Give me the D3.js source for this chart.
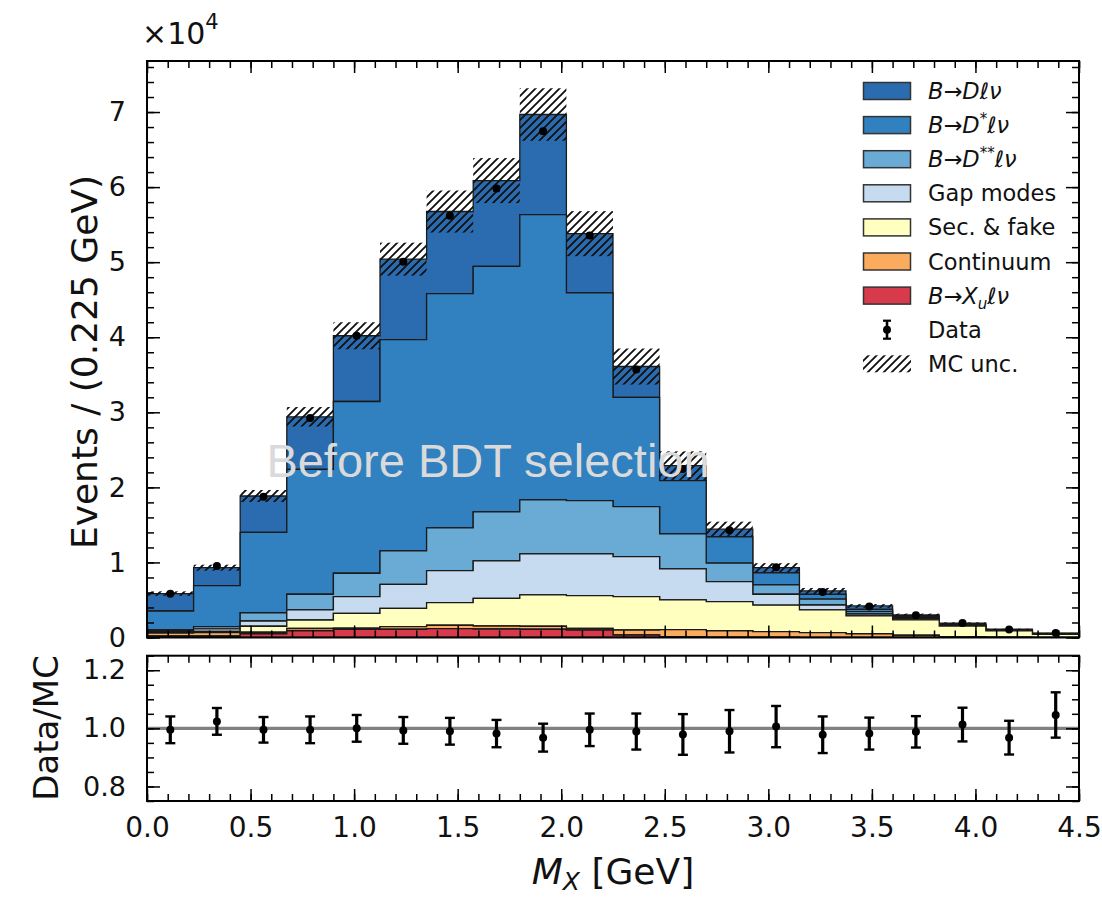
<!DOCTYPE html>
<meta charset="utf-8">
<style>
body { margin: 0; background: #fff; }
svg text { font-family: "DejaVu Sans", sans-serif; fill: #111; }
.tick line { stroke: #000; stroke-width: 1.5px; }
</style>
<body>
<script src="https://d3js.org/d3.v7.min.js"></script>
<script>
var width = 1102,
    height = 899;

// M_X bin edges [GeV]
var binEdges = [0, 0.225, 0.45, 0.675, 0.9, 1.125, 1.35, 1.575, 1.8, 2.025, 2.25,
                2.475, 2.7, 2.925, 3.15, 3.375, 3.6, 3.825, 4.05, 4.275, 4.5];

// MC components, events per bin in units of 1e4 (bottom of stack first)
var xuVals   = [0.02, 0.02, 0.05, 0.09, 0.11, 0.11, 0.117, 0.113, 0.11, 0.10, 0.033, 0.01, 0.005, 0.004, 0.003, 0.002, 0.002, 0.001, 0.001, 0.001];
var contVals = [0.04, 0.045, 0.02, 0.03, 0.015, 0.034, 0.046, 0.04, 0.04, 0.022, 0.067, 0.095, 0.085, 0.073, 0.061, 0.048, 0.028, 0.011, 0.005, 0.002];
var secVals  = [0.01, 0.015, 0.08, 0.113, 0.197, 0.245, 0.301, 0.369, 0.417, 0.435, 0.444, 0.395, 0.387, 0.353, 0.303, 0.237, 0.205, 0.141, 0.084, 0.039];
var gapVals  = [0.01, 0.035, 0.07, 0.134, 0.222, 0.32, 0.427, 0.498, 0.546, 0.556, 0.533, 0.413, 0.267, 0.146, 0.066, 0.026, 0.015, 0.007, 0.005, 0.004];
var dssVals  = [0.02, 0.03, 0.11, 0.209, 0.312, 0.444, 0.569, 0.653, 0.72, 0.711, 0.667, 0.467, 0.246, 0.124, 0.077, 0.031, 0.015, 0.01, 0.005, 0.004];
var dstVals  = [0.253, 0.545, 1.07, 1.664, 2.288, 2.814, 3.12, 3.271, 3.80, 2.766, 1.456, 0.71, 0.35, 0.16, 0.065, 0.032, 0.015, 0.01, 0.005, 0.003];
var dVals    = [0.232, 0.24, 0.485, 0.70, 0.876, 1.073, 1.095, 1.143, 1.334, 0.79, 0.41, 0.20, 0.103, 0.07, 0.045, 0.044, 0.02, 0.01, 0.005, 0.004];

// MC uncertainty (half width of hatched band), units of 1e4
var mcUnc = [0.03, 0.04, 0.08, 0.13, 0.18, 0.22, 0.28, 0.30, 0.35, 0.30, 0.24, 0.19, 0.10, 0.06, 0.04, 0.025, 0.018, 0.012, 0.007, 0.004];

// data, units of 1e4
var dataVals = [0.582, 0.952, 1.875, 2.925, 4.02, 5.005, 5.62, 5.98, 6.745, 5.355, 3.57, 2.245, 1.43, 0.935, 0.607, 0.413, 0.297, 0.193, 0.107, 0.060];
var dataErr  = [0.008, 0.01, 0.014, 0.017, 0.02, 0.022, 0.024, 0.025, 0.026, 0.023, 0.019, 0.015, 0.012, 0.01, 0.008, 0.006, 0.005, 0.004, 0.003, 0.002];

// Data/MC ratio
var ratioVals = [0.995, 1.024, 0.995, 0.995, 1.0, 0.993, 0.99, 0.982, 0.968, 0.995, 0.989, 0.979, 0.99, 1.006, 0.978, 0.982, 0.988, 1.013, 0.968, 1.046];
var ratioErr  = [0.046, 0.046, 0.044, 0.046, 0.046, 0.046, 0.046, 0.047, 0.048, 0.056, 0.062, 0.07, 0.073, 0.071, 0.063, 0.055, 0.054, 0.058, 0.058, 0.078];

var xMajor = [0, 0.5, 1.0, 1.5, 2.0, 2.5, 3.0, 3.5, 4.0, 4.5];
var yMajor = [0, 1, 2, 3, 4, 5, 6, 7];
var rMajor = [0.8, 1.0, 1.2];

var keys = ["xu", "cont", "sec", "gap", "dss", "dst", "d"];
var colors = {
  d: "#2b6cb0", dst: "#3181c0", dss: "#6aabd6", gap: "#c6dbef",
  sec: "#ffffc0", cont: "#fbab5e", xu: "#d63a4b"
};

var table = binEdges.slice(0, -1).map(function(lo, i) {
  return { lo: lo, hi: binEdges[i + 1], xu: xuVals[i], cont: contVals[i], sec: secVals[i],
           gap: gapVals[i], dss: dssVals[i], dst: dstVals[i], d: dVals[i] };
});
var series = d3.stack().keys(keys)(table);
var totals = series[series.length - 1].map(function(s) { return s[1]; });

var x = d3.scaleLinear().domain([0, 4.5]).range([147, 1079]);
var y = d3.scaleLinear().domain([0, 7.68]).range([637.5, 61]);
var yr = d3.scaleLinear().domain([0.75, 1.25]).range([801, 655.7]);

var svg = d3.select("body").append("svg")
    .attr("width", width)
    .attr("height", height);

var defs = svg.append("defs");
defs.append("pattern")
    .attr("id", "hatch")
    .attr("patternUnits", "userSpaceOnUse")
    .attr("width", 8).attr("height", 8)
  .append("path")
    .attr("d", "M-2,2 l4,-4 M0,8 l8,-8 M6,10 l4,-4")
    .attr("stroke", "#111")
    .attr("stroke-width", 1.9);
defs.append("clipPath").attr("id", "clipMain")
  .append("rect").attr("x", 147).attr("y", 61).attr("width", 932).attr("height", 576.5);

// ---------- main panel ----------
var main = svg.append("g").attr("clip-path", "url(#clipMain)");

var stepArea = d3.area()
    .x(function(p) { return x(p.x); })
    .y0(function(p) { return y(p.y0); })
    .y1(function(p) { return y(p.y1); });

series.slice().reverse().forEach(function(s) {
  var pts = [];
  s.forEach(function(v, i) {
    pts.push({ x: table[i].lo, y0: v[0], y1: v[1] });
    pts.push({ x: table[i].hi, y0: v[0], y1: v[1] });
  });
  main.append("path")
      .attr("d", stepArea(pts))
      .attr("fill", colors[s.key])
      .attr("stroke", "#1a1a1a")
      .attr("stroke-width", 1.3)
      .attr("stroke-linejoin", "miter");
});

svg.append("text")
    .attr("x", 488).attr("y", 477)
    .attr("text-anchor", "middle")
    .style("font-family", "'Liberation Sans', Arial, sans-serif")
    .style("font-size", "47px")
    .style("fill", "#dadada")
    .text("Before BDT selection");

main.selectAll("rect.unc")
  .data(table)
  .join("rect")
    .attr("class", "unc")
    .attr("x", function(d) { return x(d.lo); })
    .attr("width", function(d) { return x(d.hi) - x(d.lo); })
    .attr("y", function(d, i) { return y(totals[i] + mcUnc[i]); })
    .attr("height", function(d, i) { return y(totals[i] - mcUnc[i]) - y(totals[i] + mcUnc[i]); })
    .attr("fill", "url(#hatch)");

function errorBars(g, ys, vals, errs, cap, lw) {
  table.forEach(function(d, i) {
    var cx = x((d.lo + d.hi) / 2);
    g.append("line")
        .attr("x1", cx).attr("x2", cx)
        .attr("y1", ys(vals[i] - errs[i])).attr("y2", ys(vals[i] + errs[i]))
        .attr("stroke", "#000").attr("stroke-width", lw);
    [vals[i] - errs[i], vals[i] + errs[i]].forEach(function(v) {
      g.append("line")
          .attr("x1", cx - cap).attr("x2", cx + cap)
          .attr("y1", ys(v)).attr("y2", ys(v))
          .attr("stroke", "#000").attr("stroke-width", 2.4);
    });
    g.append("circle").attr("cx", cx).attr("cy", ys(vals[i])).attr("r", 4).attr("fill", "#000");
  });
}
errorBars(main, y, dataVals, dataErr, 3, 2.6);

// ---------- ratio panel ----------
var ratio = svg.append("g");
ratio.append("line")
    .attr("x1", x(0)).attr("x2", x(4.5))
    .attr("y1", yr(1)).attr("y2", yr(1))
    .attr("stroke", "#808080").attr("stroke-width", 3.2);
errorBars(ratio, yr, ratioVals, ratioErr, 5, 3.2);

// ---------- axes ----------
function clean(g) {
  g.select(".domain").remove();
  g.attr("font-size", null).attr("font-family", null);
}

function frame(ys, yMaj, yMinStep, yFmt, xLabels) {
  var top = ys.range()[1], bot = ys.range()[0];
  var d0 = ys.domain()[0], d1 = ys.domain()[1];
  var xMinor = d3.range(0, 4.501, 0.1);
  var yMinor = d3.range(Math.ceil(d0 / yMinStep - 1e-6) * yMinStep, d1 + 1e-6, yMinStep);

  [[bot, d3.axisBottom], [top, d3.axisTop]].forEach(function(a) {
    svg.append("g").attr("transform", "translate(0," + a[0] + ")")
        .call(a[1](x).tickValues(xMinor).tickSize(-7).tickFormat(""))
        .call(clean);
    var gx = svg.append("g").attr("transform", "translate(0," + a[0] + ")")
        .call(a[1](x).tickValues(xMajor).tickSize(-12).tickPadding(16)
              .tickFormat(a[1] === d3.axisBottom && xLabels ? d3.format(".1f") : ""))
        .call(clean);
    gx.selectAll("text").style("font-size", "28px");
  });

  [[147, d3.axisLeft], [1079, d3.axisRight]].forEach(function(a) {
    svg.append("g").attr("transform", "translate(" + a[0] + ",0)")
        .call(a[1](ys).tickValues(yMinor).tickSize(-7).tickFormat(""))
        .call(clean);
    var gy = svg.append("g").attr("transform", "translate(" + a[0] + ",0)")
        .call(a[1](ys).tickValues(yMaj).tickSize(-13).tickPadding(21)
              .tickFormat(a[1] === d3.axisLeft ? yFmt : ""))
        .call(clean);
    gy.selectAll("text").style("font-size", "27px");
  });

  svg.append("rect")
      .attr("x", 147).attr("y", top)
      .attr("width", 1079 - 147).attr("height", bot - top)
      .attr("fill", "none").attr("stroke", "#000").attr("stroke-width", 2);
}

frame(y, yMajor, 0.2, d3.format("d"), false);
frame(yr, rMajor, 0.05, d3.format(".1f"), true);

// exponent
var expo = svg.append("text").attr("x", 142).attr("y", 44).style("font-size", "30px");
expo.append("tspan").text("\u00d710");
expo.append("tspan").attr("dy", -15).style("font-size", "21px").text("4");

// axis titles
svg.append("text")
    .attr("transform", "translate(97,362) rotate(-90)")
    .attr("text-anchor", "middle")
    .style("font-size", "36px")
    .text("Events / (0.225 GeV)");

svg.append("text")
    .attr("transform", "translate(58,728) rotate(-90)")
    .attr("text-anchor", "middle")
    .style("font-size", "34px")
    .text("Data/MC");

var xt = svg.append("text")
    .attr("x", 613).attr("y", 884)
    .attr("text-anchor", "middle")
    .style("font-size", "36px");
xt.append("tspan").style("font-style", "italic").text("M");
xt.append("tspan").attr("dy", 6).style("font-style", "italic").style("font-size", "25px").text("X");
xt.append("tspan").attr("dy", -6).text(" [GeV]");

// ---------- legend ----------
var legendItems = [
  { key: "d",    parts: [["B", "i"], ["\u2192", ""], ["D", "i"], ["\u2113\u03bd", "i"]] },
  { key: "dst",  parts: [["B", "i"], ["\u2192", ""], ["D", "i"], ["*", "sup"], ["\u2113\u03bd", "i"]] },
  { key: "dss",  parts: [["B", "i"], ["\u2192", ""], ["D", "i"], ["**", "sup"], ["\u2113\u03bd", "i"]] },
  { key: "gap",  parts: [["Gap modes", ""]] },
  { key: "sec",  parts: [["Sec. & fake", ""]] },
  { key: "cont", parts: [["Continuum", ""]] },
  { key: "xu",   parts: [["B", "i"], ["\u2192", ""], ["X", "i"], ["u", "sub"], ["\u2113\u03bd", "i"]] },
  { key: "data", parts: [["Data", ""]] },
  { key: "unc",  parts: [["MC unc.", ""]] }
];

var legend = svg.append("g");
legendItems.forEach(function(item, i) {
  var cy = 91 + i * 34.1;
  if (item.key === "data") {
    legend.append("line").attr("x1", 887).attr("x2", 887).attr("y1", cy - 9).attr("y2", cy + 9)
        .attr("stroke", "#000").attr("stroke-width", 2.6);
    [cy - 9, cy + 9].forEach(function(v) {
      legend.append("line").attr("x1", 883).attr("x2", 891).attr("y1", v).attr("y2", v)
          .attr("stroke", "#000").attr("stroke-width", 2.2);
    });
    legend.append("circle").attr("cx", 887).attr("cy", cy).attr("r", 4).attr("fill", "#000");
  } else if (item.key === "unc") {
    legend.append("rect").attr("x", 863).attr("y", cy - 8.5).attr("width", 48).attr("height", 17)
        .attr("fill", "url(#hatch)");
  } else {
    legend.append("rect").attr("x", 863.5).attr("y", cy - 8.5).attr("width", 47).attr("height", 17)
        .attr("fill", colors[item.key]).attr("stroke", "#333").attr("stroke-width", 1.5);
  }
  var t = legend.append("text").attr("x", 928).attr("y", cy + 8).style("font-size", "22.5px");
  var shift = 0;
  item.parts.forEach(function(p) {
    var ts = t.append("tspan").text(p[0]);
    if (p[1] === "i") ts.style("font-style", "italic");
    var want = p[1] === "sup" ? -9 : p[1] === "sub" ? 5 : 0;
    if (p[1] === "sup" || p[1] === "sub") ts.style("font-size", "15px").style("font-style", p[1] === "sub" ? "italic" : "normal");
    if (want !== shift) { ts.attr("dy", want - shift); shift = want; }
  });
});
</script>
</body>
